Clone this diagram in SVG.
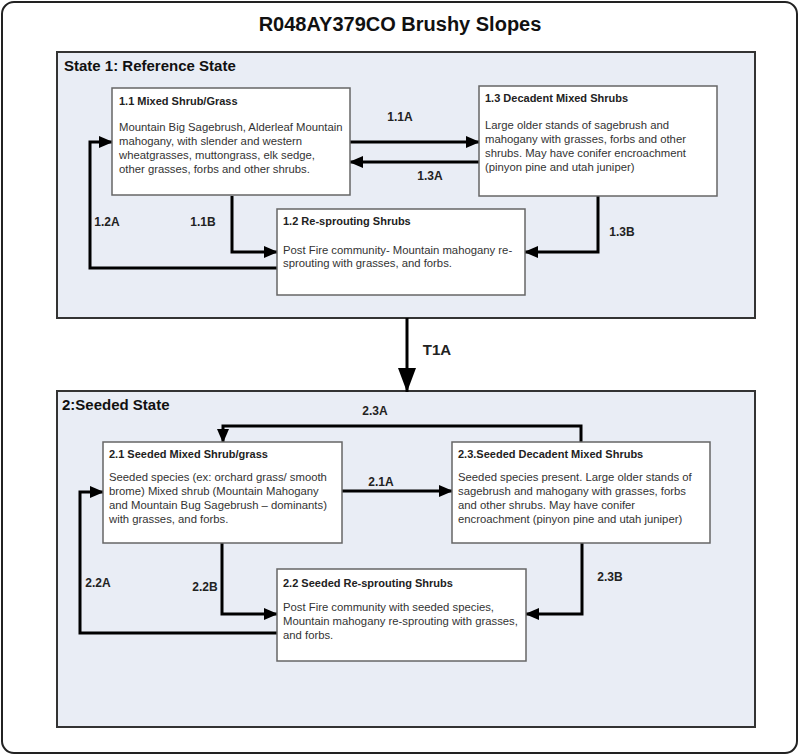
<svg xmlns="http://www.w3.org/2000/svg" width="800" height="756" viewBox="0 0 800 756">
<style>
.title{font-family:"Liberation Sans",Arial,sans-serif;font-weight:bold;font-size:20px;fill:#111}
.state{fill:#e9edf5;stroke:#333;stroke-width:2}
.stitle{font-family:"Liberation Sans",Arial,sans-serif;font-weight:bold;font-size:15px;fill:#111}
.box{fill:#fff;stroke:#666;stroke-width:1.5}
.bt{font-family:"Liberation Sans",Arial,sans-serif;font-weight:bold;font-size:11px;fill:#222}
.body{font-family:"Liberation Sans",Arial,sans-serif;font-size:11.3px;fill:#333}
.lbl{font-family:"Liberation Sans",Arial,sans-serif;font-weight:bold;font-size:12px;fill:#222;text-anchor:middle}
.con{fill:none;stroke:#000;stroke-width:3}
</style>
<defs>
<marker id="ah" markerUnits="userSpaceOnUse" markerWidth="14" markerHeight="12" refX="13" refY="6" orient="auto">
<path d="M0,0 L14,6 L0,12 z" fill="#000"/>
</marker>
<marker id="ahb" markerUnits="userSpaceOnUse" markerWidth="24" markerHeight="18" refX="24" refY="9" orient="auto">
<path d="M0,0 L24,9 L0,18 z" fill="#000"/>
</marker>
</defs>
<rect x="2" y="2" width="795" height="751" rx="12" ry="12" fill="#fff" stroke="#222" stroke-width="2"/>
<text class="title" x="400" y="31" text-anchor="middle">R048AY379CO Brushy Slopes</text>

<g id="state1">
<rect class="state" x="57" y="52" width="698" height="266"/>
<text class="stitle" x="64" y="71">State 1: Reference State</text>
</g>
<g id="state2">
<rect class="state" x="57" y="391" width="698" height="336"/>
<text class="stitle" x="62" y="410">2:Seeded State</text>
</g>

<g id="connectors">
<path class="con" d="M350,142 L479,142" marker-end="url(#ah)"/>
<path class="con" d="M479,162 L350,162" marker-end="url(#ah)"/>
<path class="con" d="M232,196 L232,252 L277,252" marker-end="url(#ah)"/>
<path class="con" d="M277,268 L90,268 L90,142 L112,142" marker-end="url(#ah)"/>
<path class="con" d="M598,196 L598,252 L525,252" marker-end="url(#ah)"/>
<path class="con" d="M407,318 L407,392" stroke-width="4" marker-end="url(#ahb)"/>
<path class="con" d="M581,442 L581,426 L223,426 L223,442" marker-end="url(#ah)"/>
<path class="con" d="M342,491 L452,491" marker-end="url(#ah)"/>
<path class="con" d="M222,543 L222,614 L277,614" marker-end="url(#ah)"/>
<path class="con" d="M277,633 L80,633 L80,492 L103,492" marker-end="url(#ah)"/>
<path class="con" d="M582,543 L582,614 L526,614" marker-end="url(#ah)"/>
<text class="lbl" x="400" y="121">1.1A</text>
<text class="lbl" x="430" y="180">1.3A</text>
<text class="lbl" x="107" y="226">1.2A</text>
<text class="lbl" x="203" y="226">1.1B</text>
<text class="lbl" x="622" y="236">1.3B</text>
<text class="lbl" x="437" y="355" style="font-size:15px">T1A</text>
<text class="lbl" x="375" y="415">2.3A</text>
<text class="lbl" x="381" y="486">2.1A</text>
<text class="lbl" x="98" y="587">2.2A</text>
<text class="lbl" x="205" y="591">2.2B</text>
<text class="lbl" x="610" y="581">2.3B</text>
</g>

<g id="n11">
<rect class="box" x="112" y="88" width="238" height="107"/>
<text class="bt" x="119" y="105">1.1 Mixed Shrub/Grass</text>
<text class="body" x="119" y="131">Mountain Big Sagebrush, Alderleaf Mountain</text>
<text class="body" x="119" y="145">mahogany, with slender and western</text>
<text class="body" x="119" y="159">wheatgrasses, muttongrass, elk sedge,</text>
<text class="body" x="119" y="173">other grasses, forbs and other shrubs.</text>
</g>
<g id="n13">
<rect class="box" x="479" y="86" width="238" height="110"/>
<text class="bt" x="485" y="102">1.3 Decadent Mixed Shrubs</text>
<text class="body" x="485" y="129">Large older stands of sagebrush and</text>
<text class="body" x="485" y="143">mahogany with grasses, forbs and other</text>
<text class="body" x="485" y="157">shrubs. May have conifer encroachment</text>
<text class="body" x="485" y="171">(pinyon pine and utah juniper)</text>
</g>
<g id="n12">
<rect class="box" x="277" y="209" width="248" height="86"/>
<text class="bt" x="283" y="225">1.2 Re-sprouting Shrubs</text>
<text class="body" x="283" y="254">Post Fire community- Mountain mahogany re-</text>
<text class="body" x="283" y="267">sprouting with grasses, and forbs.</text>
</g>
<g id="n21">
<rect class="box" x="103" y="442" width="239" height="101"/>
<text class="bt" x="109" y="458">2.1 Seeded Mixed Shrub/grass</text>
<text class="body" x="109" y="481">Seeded species (ex: orchard grass/ smooth</text>
<text class="body" x="109" y="495">brome)  Mixed shrub (Mountain Mahogany</text>
<text class="body" x="109" y="509">and Mountain Bug Sagebrush – dominants)</text>
<text class="body" x="109" y="523">with grasses, and forbs.</text>
</g>
<g id="n23">
<rect class="box" x="452" y="442" width="258" height="101"/>
<text class="bt" x="458" y="458">2.3.Seeded Decadent Mixed Shrubs</text>
<text class="body" x="458" y="481">Seeded species present.  Large older stands of</text>
<text class="body" x="458" y="495">sagebrush and mahogany with grasses, forbs</text>
<text class="body" x="458" y="509">and other shrubs. May have conifer</text>
<text class="body" x="458" y="523">encroachment (pinyon pine and utah juniper)</text>
</g>
<g id="n22">
<rect class="box" x="277" y="569" width="249" height="92"/>
<text class="bt" x="283" y="587">2.2 Seeded Re-sprouting Shrubs</text>
<text class="body" x="283" y="611">Post Fire community with seeded species,</text>
<text class="body" x="283" y="625">Mountain mahogany re-sprouting with grasses,</text>
<text class="body" x="283" y="639">and forbs.</text>
</g>
</svg>
